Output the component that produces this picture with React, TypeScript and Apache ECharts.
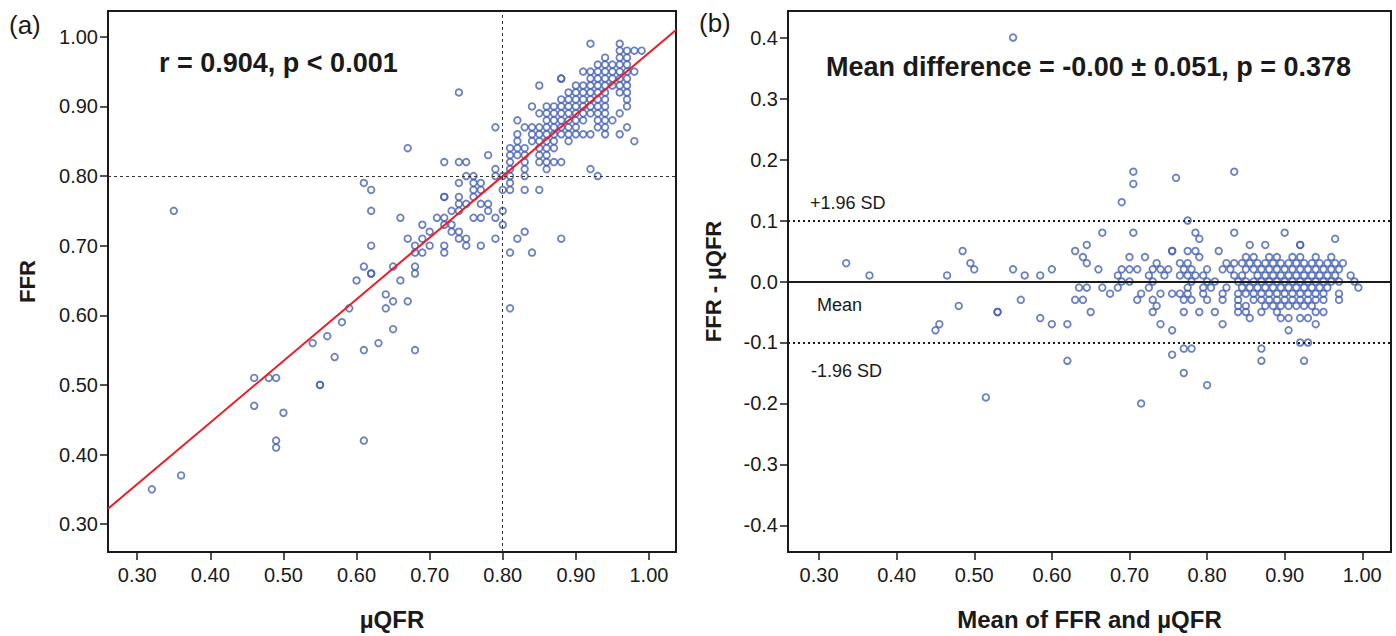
import React, { useEffect, useRef } from "react";
import * as echarts from "echarts";

// ---------- Data ----------
// Panel (a): rows of FFR value -> list of µQFR values
const ffrRows: [number, number[]][] = [
  [0.99, [0.92, 0.96]],
  [0.98, [0.96, 0.97, 0.98, 0.99]],
  [0.97, [0.94, 0.96, 0.97]],
  [0.96, [0.93, 0.94, 0.95, 0.96, 0.97]],
  [0.95, [0.91, 0.92, 0.93, 0.94, 0.95, 0.96, 0.97, 0.98]],
  [0.94, [0.88, 0.88, 0.92, 0.93, 0.94, 0.95, 0.96, 0.97]],
  [0.93, [0.85, 0.9, 0.91, 0.92, 0.93, 0.94, 0.95, 0.96, 0.97]],
  [0.92, [0.74, 0.89, 0.9, 0.91, 0.92, 0.93, 0.94, 0.96, 0.97]],
  [0.91, [0.88, 0.89, 0.9, 0.91, 0.92, 0.93, 0.94, 0.97]],
  [0.9, [0.84, 0.86, 0.87, 0.88, 0.89, 0.9, 0.91, 0.92, 0.93, 0.94, 0.97]],
  [0.89, [0.85, 0.86, 0.87, 0.88, 0.89, 0.9, 0.91, 0.92, 0.93, 0.94, 0.96]],
  [0.88, [0.82, 0.86, 0.87, 0.88, 0.89, 0.9, 0.91, 0.93, 0.94, 0.95]],
  [0.87, [0.79, 0.83, 0.84, 0.85, 0.86, 0.87, 0.88, 0.89, 0.9, 0.93, 0.94, 0.97]],
  [0.86, [0.82, 0.84, 0.85, 0.86, 0.87, 0.88, 0.89, 0.9, 0.91, 0.92, 0.94, 0.96]],
  [0.85, [0.82, 0.84, 0.85, 0.86, 0.87, 0.89, 0.98]],
  [0.84, [0.67, 0.81, 0.82, 0.83, 0.85, 0.86, 0.87]],
  [0.83, [0.78, 0.81, 0.82, 0.83, 0.85, 0.86]],
  [0.82, [0.72, 0.74, 0.75, 0.81, 0.83, 0.85, 0.86, 0.87, 0.88]],
  [0.81, [0.79, 0.81, 0.83, 0.86, 0.92]],
  [0.8, [0.75, 0.76, 0.79, 0.8, 0.81, 0.83, 0.93]],
  [0.79, [0.61, 0.74, 0.76, 0.77, 0.81]],
  [0.78, [0.62, 0.76, 0.77, 0.8, 0.81, 0.83, 0.85]],
  [0.77, [0.72, 0.72, 0.74, 0.76]],
  [0.76, [0.74, 0.75, 0.77, 0.78]],
  [0.75, [0.35, 0.62, 0.73, 0.74, 0.78, 0.8]],
  [0.74, [0.66, 0.71, 0.72, 0.76, 0.77, 0.79]],
  [0.73, [0.69, 0.72, 0.73, 0.8]],
  [0.72, [0.7, 0.73, 0.74, 0.83]],
  [0.71, [0.67, 0.69, 0.74, 0.75, 0.79, 0.82, 0.88]],
  [0.7, [0.62, 0.68, 0.7, 0.72, 0.75, 0.77]],
  [0.69, [0.68, 0.69, 0.72, 0.81, 0.84]],
  [0.67, [0.61, 0.65, 0.68]],
  [0.66, [0.62, 0.62, 0.68]],
  [0.65, [0.6, 0.66]],
  [0.63, [0.64]],
  [0.62, [0.65, 0.67]],
  [0.61, [0.59, 0.64, 0.81]],
  [0.59, [0.58]],
  [0.58, [0.65]],
  [0.57, [0.56]],
  [0.56, [0.54, 0.63]],
  [0.55, [0.61, 0.68]],
  [0.54, [0.57]],
  [0.51, [0.46, 0.48, 0.49]],
  [0.5, [0.55, 0.55]],
  [0.47, [0.46]],
  [0.46, [0.5]],
  [0.42, [0.49, 0.61]],
  [0.41, [0.49]],
  [0.37, [0.36]],
  [0.35, [0.32]],
];

// Panel (b): rows of difference (FFR - µQFR) -> list of means of FFR and µQFR
const diffRows: [number, number[]][] = [
  [0.4, [0.55]],
  [0.18, [0.705, 0.835]],
  [0.17, [0.76]],
  [0.16, [0.705]],
  [0.13, [0.69]],
  [0.1, [0.775]],
  [0.08, [0.665, 0.705, 0.785, 0.835, 0.9]],
  [0.07, [0.79, 0.965]],
  [0.06, [0.645, 0.855, 0.875, 0.92, 0.92]],
  [0.05, [0.485, 0.63, 0.755, 0.755, 0.775, 0.785, 0.815]],
  [0.04, [0.64, 0.7, 0.72, 0.79, 0.85, 0.86, 0.88, 0.89, 0.91, 0.92, 0.94, 0.96]],
  [0.03, [0.335, 0.495, 0.645, 0.735, 0.765, 0.775, 0.825, 0.835, 0.845, 0.855, 0.865, 0.875, 0.885, 0.895, 0.905, 0.915, 0.925, 0.935, 0.945, 0.955, 0.965, 0.975]],
  [0.02, [0.5, 0.55, 0.6, 0.66, 0.69, 0.7, 0.71, 0.73, 0.74, 0.75, 0.77, 0.78, 0.8, 0.82, 0.83, 0.85, 0.86, 0.87, 0.88, 0.89, 0.9, 0.91, 0.92, 0.93, 0.94, 0.95, 0.96, 0.97]],
  [0.01, [0.365, 0.465, 0.565, 0.585, 0.685, 0.725, 0.745, 0.765, 0.775, 0.785, 0.795, 0.835, 0.845, 0.865, 0.875, 0.885, 0.895, 0.905, 0.915, 0.925, 0.935, 0.945, 0.955, 0.965, 0.985]],
  [0.0, [0.69, 0.7, 0.73, 0.78, 0.8, 0.81, 0.84, 0.85, 0.86, 0.87, 0.88, 0.89, 0.9, 0.91, 0.92, 0.93, 0.94, 0.95, 0.96, 0.97, 0.99]],
  [-0.01, [0.635, 0.645, 0.665, 0.685, 0.725, 0.775, 0.795, 0.805, 0.825, 0.845, 0.855, 0.865, 0.875, 0.885, 0.895, 0.905, 0.915, 0.925, 0.935, 0.945, 0.955, 0.995]],
  [-0.02, [0.675, 0.715, 0.74, 0.755, 0.765, 0.775, 0.795, 0.82, 0.84, 0.85, 0.86, 0.87, 0.88, 0.89, 0.9, 0.91, 0.92, 0.93, 0.94, 0.95, 0.97]],
  [-0.03, [0.56, 0.63, 0.64, 0.71, 0.73, 0.77, 0.78, 0.8, 0.82, 0.84, 0.86, 0.87, 0.88, 0.89, 0.9, 0.91, 0.92, 0.93, 0.94, 0.95, 0.97]],
  [-0.04, [0.48, 0.735, 0.84, 0.85, 0.875, 0.885, 0.895, 0.905, 0.915, 0.925, 0.935]],
  [-0.05, [0.53, 0.53, 0.65, 0.73, 0.77, 0.79, 0.81, 0.84, 0.85, 0.87, 0.89, 0.94, 0.95]],
  [-0.06, [0.585, 0.855, 0.895, 0.905, 0.92, 0.93]],
  [-0.07, [0.455, 0.6, 0.62, 0.74, 0.82, 0.94]],
  [-0.08, [0.45, 0.755, 0.905]],
  [-0.1, [0.92, 0.93]],
  [-0.11, [0.77, 0.78, 0.87]],
  [-0.12, [0.755]],
  [-0.13, [0.62, 0.87, 0.925]],
  [-0.15, [0.77]],
  [-0.17, [0.8]],
  [-0.19, [0.515]],
  [-0.2, [0.715]],
];

// Regression line (FFR = intercept + slope * µQFR)
const regIntercept = 0.092;
const regSlope = 0.885;
const cutoff = 0.8;

// Bland-Altman lines
const meanDiff = -0.001;
const upperLoA = 0.099;
const lowerLoA = -0.101;

// Axis tick values
const ticksA = [0.3, 0.4, 0.5, 0.6, 0.7, 0.8, 0.9, 1.0];
const ticksBy = [-0.4, -0.3, -0.2, -0.1, 0.0, 0.1, 0.2, 0.3, 0.4];
const axisMinA = 0.26;
const axisMaxA = 1.037;
const axisMinBy = -0.4435;
const axisMaxBy = 0.4435;

// Texts
const statTextA = "r = 0.904, p < 0.001";
const statTextB = "Mean difference = -0.00 \u00B1 0.051, p = 0.378";

const FONT = '"Liberation Sans", Arial, Helvetica, sans-serif';
const BLUE = "#4560b4";
const INK = "#1a1a1a";

function flatten(rows: [number, number[]][]): number[][] {
  const out: number[][] = [];
  rows.forEach(([y, xs]) => xs.forEach((x) => out.push([x, y])));
  return out;
}

function axisX(gridIndex: number, name: string, nameGap: number) {
  return {
    type: "value",
    gridIndex,
    min: axisMinA,
    max: axisMaxA,
    name,
    nameLocation: "middle",
    nameGap,
    nameTextStyle: { fontFamily: FONT, fontWeight: "bold", fontSize: 24, color: INK },
    axisLine: { show: true, onZero: false, lineStyle: { color: INK, width: 2 } },
    axisTick: { show: true, length: 8, customValues: ticksA, lineStyle: { color: INK, width: 1.5 } },
    axisLabel: {
      customValues: ticksA,
      formatter: (v: number) => v.toFixed(2),
      fontFamily: FONT,
      fontSize: 20,
      color: INK,
      margin: 13,
    },
    splitLine: { show: false },
  };
}

export default function App() {
  const ref = useRef<HTMLDivElement>(null);
  useEffect(() => {
    if (!ref.current) return;
    const chart = echarts.init(ref.current, undefined, { renderer: "svg" });
    const ptsA = flatten(ffrRows);
    const ptsB = flatten(diffRows);
    const scatterStyle = {
      color: "rgba(0,0,0,0)",
      borderColor: BLUE,
      borderWidth: 1.8,
    };
    const option: any = {
      animation: false,
      backgroundColor: "#ffffff",
      grid: [
        { left: 108, top: 11, width: 568, height: 541, show: true, borderColor: INK, borderWidth: 2, backgroundColor: "transparent" },
        { left: 788, top: 11, width: 603, height: 544, show: true, borderColor: INK, borderWidth: 2, backgroundColor: "transparent" },
      ],
      xAxis: [axisX(0, "\u00B5QFR", 55), axisX(1, "Mean of FFR and \u00B5QFR", 55)],
      yAxis: [
        {
          type: "value",
          gridIndex: 0,
          min: axisMinA,
          max: axisMaxA,
          name: "FFR",
          nameLocation: "middle",
          nameGap: 70,
          nameTextStyle: { fontFamily: FONT, fontWeight: "bold", fontSize: 22, color: INK },
          axisLine: { show: true, onZero: false, lineStyle: { color: INK, width: 2 } },
          axisTick: { show: true, length: 8, customValues: ticksA, lineStyle: { color: INK, width: 1.5 } },
          axisLabel: {
            customValues: ticksA,
            formatter: (v: number) => v.toFixed(2),
            fontFamily: FONT,
            fontSize: 20,
            color: INK,
            margin: 10,
          },
          splitLine: { show: false },
        },
        {
          type: "value",
          gridIndex: 1,
          min: axisMinBy,
          max: axisMaxBy,
          name: "FFR - \u00B5QFR",
          nameLocation: "middle",
          nameGap: 64,
          nameTextStyle: { fontFamily: FONT, fontWeight: "bold", fontSize: 22, color: INK },
          axisLine: { show: true, onZero: false, lineStyle: { color: INK, width: 2 } },
          axisTick: { show: true, length: 8, customValues: ticksBy, lineStyle: { color: INK, width: 1.5 } },
          axisLabel: {
            customValues: ticksBy,
            formatter: (v: number) => (Math.abs(v) < 1e-9 ? "0.0" : v.toFixed(1)),
            fontFamily: FONT,
            fontSize: 20,
            color: INK,
            margin: 10,
          },
          splitLine: { show: false },
        },
      ],
      series: [
        {
          type: "scatter",
          xAxisIndex: 0,
          yAxisIndex: 0,
          data: ptsA,
          symbol: "circle",
          symbolSize: 6.6,
          itemStyle: scatterStyle,
          z: 3,
          markLine: {
            silent: true,
            symbol: "none",
            label: { show: false },
            lineStyle: { color: "#333", width: 1, type: [3, 3] },
            data: [{ yAxis: cutoff }, { xAxis: cutoff }],
          },
        },
        {
          type: "line",
          xAxisIndex: 0,
          yAxisIndex: 0,
          data: [
            [axisMinA, regIntercept + regSlope * axisMinA],
            [axisMaxA, regIntercept + regSlope * axisMaxA],
          ],
          symbol: "none",
          lineStyle: { color: "#ee1c25", width: 2 },
          z: 4,
        },
        {
          type: "scatter",
          xAxisIndex: 1,
          yAxisIndex: 1,
          data: ptsB,
          symbol: "circle",
          symbolSize: 6.6,
          itemStyle: scatterStyle,
          z: 3,
          markLine: {
            silent: true,
            symbol: "none",
            label: { show: false },
            data: [
              { yAxis: meanDiff, lineStyle: { color: INK, width: 2, type: "solid" } },
              { yAxis: upperLoA, lineStyle: { color: INK, width: 2, type: [2, 3] } },
              { yAxis: lowerLoA, lineStyle: { color: INK, width: 2, type: [2, 3] } },
            ],
          },
        },
      ],
      graphic: [
        { type: "text", x: 9, y: 25, z: 10, style: { text: "(a)", fontFamily: FONT, fontSize: 26, fill: INK, align: "left", verticalAlign: "middle" } },
        { type: "text", x: 699, y: 23, z: 10, style: { text: "(b)", fontFamily: FONT, fontSize: 26, fill: INK, align: "left", verticalAlign: "middle" } },
        { type: "text", x: 159, y: 63, z: 10, style: { text: statTextA, fontFamily: FONT, fontSize: 27, fontWeight: "bold", fill: INK, align: "left", verticalAlign: "middle" } },
        { type: "text", x: 826, y: 67, z: 10, style: { text: statTextB, fontFamily: FONT, fontSize: 27, fontWeight: "bold", fill: INK, align: "left", verticalAlign: "middle" } },
        { type: "text", x: 810, y: 203, z: 10, style: { text: "+1.96 SD", fontFamily: FONT, fontSize: 18, fill: INK, align: "left", verticalAlign: "middle" } },
        { type: "text", x: 817, y: 305, z: 10, style: { text: "Mean", fontFamily: FONT, fontSize: 18, fill: INK, align: "left", verticalAlign: "middle" } },
        { type: "text", x: 811, y: 371, z: 10, style: { text: "-1.96 SD", fontFamily: FONT, fontSize: 18, fill: INK, align: "left", verticalAlign: "middle" } },
      ],
    };
    chart.setOption(option);
    return () => chart.dispose();
  }, []);
  return (
    <div
      ref={ref}
      style={{ position: "fixed", left: 0, top: 0, width: 1396, height: 636, background: "#fff" }}
    />
  );
}
